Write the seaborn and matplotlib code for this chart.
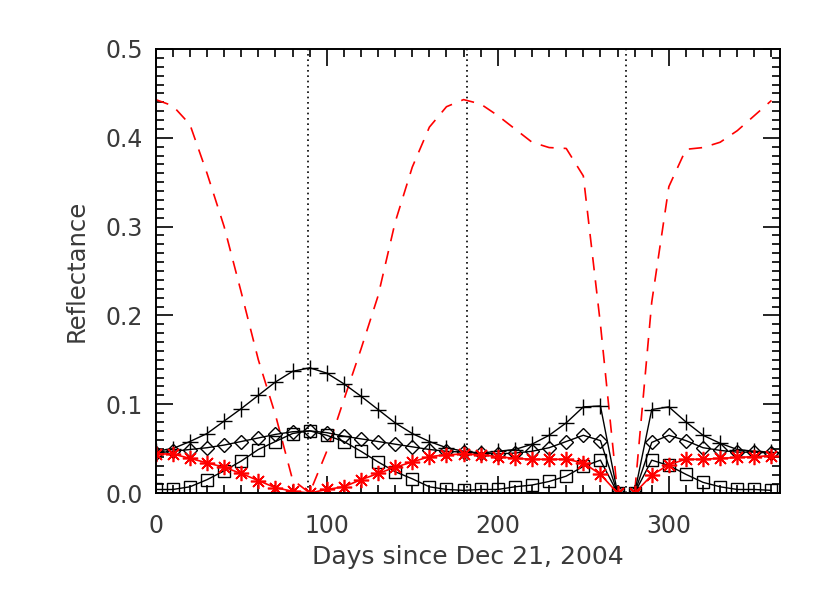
import seaborn as sns
import matplotlib.pyplot as plt
import pandas as pd
import numpy as np

# days since Dec 21, 2004 (every 10 days)
days = list(range(0, 370, 10))

# red dashed curve
dashed = [0.443, 0.436, 0.415, 0.360, 0.300, 0.226, 0.150, 0.088, 0.015, 0.000,
          0.047, 0.105, 0.162, 0.222, 0.305, 0.367, 0.412, 0.435, 0.443, 0.438,
          0.425, 0.410, 0.395, 0.389, 0.388, 0.357, 0.190, 0.000, 0.000, 0.215,
          0.345, 0.387, 0.389, 0.395, 0.408, 0.425, 0.442]

# black, plus markers
plus = [0.047, 0.050, 0.058, 0.067, 0.081, 0.095, 0.110, 0.125, 0.137, 0.141,
        0.135, 0.123, 0.109, 0.094, 0.079, 0.067, 0.058, 0.051, 0.047, 0.045,
        0.047, 0.049, 0.055, 0.065, 0.079, 0.097, 0.098, 0.000, 0.000, 0.094,
        0.097, 0.080, 0.065, 0.056, 0.049, 0.047, 0.046]

# black, diamonds
diamond = [0.045, 0.047, 0.049, 0.051, 0.054, 0.058, 0.062, 0.066, 0.069, 0.070,
           0.068, 0.064, 0.061, 0.058, 0.055, 0.052, 0.049, 0.047, 0.046, 0.045,
           0.044, 0.045, 0.047, 0.051, 0.058, 0.065, 0.059, 0.000, 0.000, 0.057,
           0.065, 0.059, 0.051, 0.048, 0.046, 0.046, 0.045]

# black, squares
square = [0.004, 0.004, 0.007, 0.015, 0.025, 0.036, 0.049, 0.058, 0.067, 0.070,
          0.065, 0.058, 0.047, 0.035, 0.024, 0.016, 0.007, 0.004, 0.003, 0.004,
          0.004, 0.007, 0.009, 0.013, 0.019, 0.030, 0.037, 0.000, 0.000, 0.037,
          0.031, 0.021, 0.012, 0.007, 0.004, 0.004, 0.003]

# red, asterisks
star = [0.044, 0.044, 0.039, 0.034, 0.029, 0.022, 0.014, 0.006, 0.002, 0.000,
        0.004, 0.007, 0.015, 0.022, 0.029, 0.035, 0.041, 0.043, 0.044, 0.043,
        0.041, 0.039, 0.038, 0.038, 0.038, 0.034, 0.021, 0.000, 0.000, 0.020,
        0.032, 0.038, 0.038, 0.039, 0.040, 0.041, 0.042]

# equinox / solstice markers
vlines = [89, 182, 275]

df = pd.DataFrame({'day': days, 'dashed': dashed, 'plus': plus,
                   'diamond': diamond, 'square': square, 'star': star})

sns.set_style("ticks")
plt.rcParams['font.family'] = ['DejaVu Sans']

fig = plt.figure(figsize=(8.3, 5.93), dpi=100)
ax = fig.add_axes([0.1876, 0.1686, 0.7522, 0.7488])

for v in vlines:
    ax.axvline(v, color='black', ls=(0, (1, 2.2)), lw=1.2)

sns.lineplot(data=df, x='day', y='dashed', ax=ax, color='red', lw=1.2,
             linestyle=(0, (8, 6)))
sns.lineplot(data=df, x='day', y='plus', ax=ax, color='black', lw=1.0,
             marker='+', markersize=11, markeredgewidth=1.0, markeredgecolor='black')
sns.lineplot(data=df, x='day', y='diamond', ax=ax, color='black', lw=1.0,
             marker='D', markersize=7, markerfacecolor='none',
             markeredgecolor='black', markeredgewidth=1.0)
sns.lineplot(data=df, x='day', y='square', ax=ax, color='black', lw=1.0,
             marker='s', markersize=9, markerfacecolor='none',
             markeredgecolor='black', markeredgewidth=1.0)
sns.lineplot(data=df, x='day', y='star', ax=ax, color='red', lw=1.2,
             marker=(8, 2, 0), markersize=11, markeredgewidth=1.2,
             markeredgecolor='red')

ax.set_xlim(0, 365)
ax.set_ylim(0, 0.5)
ax.set_xticks([0, 100, 200, 300])
ax.set_xticks(np.arange(0, 366, 10), minor=True)
ax.set_yticks([0.0, 0.1, 0.2, 0.3, 0.4, 0.5])
ax.set_yticklabels(['0.0', '0.1', '0.2', '0.3', '0.4', '0.5'])
ax.set_yticks(np.arange(0, 0.501, 0.01), minor=True)
ax.tick_params(which='both', direction='in', top=True, right=True,
               colors='black', labelcolor='#3a3a3a', labelsize=17)
ax.tick_params(which='major', length=12, width=1.2)
ax.tick_params(axis='y', which='major', pad=9)
ax.tick_params(axis='x', which='major', pad=15)
ax.tick_params(which='minor', length=6, width=1.2)
for s in ax.spines.values():
    s.set_linewidth(1.4)
    s.set_color('black')

ax.set_xlabel('Days since Dec 21, 2004', fontsize=18, color='#3a3a3a', labelpad=5)
ax.set_ylabel('Reflectance', fontsize=17.5, color='#3a3a3a', labelpad=12)

fig.savefig('out.png', dpi=100)
